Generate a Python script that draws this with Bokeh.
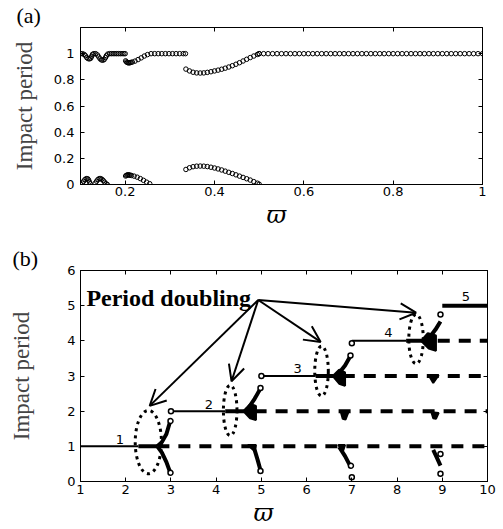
from bokeh.plotting import figure
from bokeh.models import Range1d, LinearAxis, FixedTicker, Label, Arrow, OpenHead, Title
from bokeh.layouts import column
from bokeh.embed import file_html
from bokeh.resources import INLINE

# ---------------- panel (a) data ----------------
a_up1_w = [0.100,0.104,0.108,0.111,0.114,0.117,0.120,0.123,0.125,0.127,0.130,0.134,0.138,0.141,0.144,0.147,0.150,0.153,0.156,0.158,0.161,0.165,0.169,0.173,0.177,0.181,0.185,0.189,0.193,0.197,0.200]
a_up1_v = [1.0,1.0,0.995,0.985,0.97,0.962,0.96,0.965,0.98,0.995,1.0,1.0,0.99,0.975,0.96,0.952,0.95,0.955,0.97,0.985,0.997,1.0,1.0,1.0,1.0,1.0,1.0,1.0,1.0,1.0,1.0]
a_lo1_w = [0.100,0.104,0.107,0.110,0.113,0.116,0.118,0.120,0.122,0.133,0.136,0.139,0.142,0.145,0.148,0.151,0.154,0.157,0.160]
a_lo1_v = [0.0,0.01,0.025,0.038,0.045,0.044,0.035,0.02,0.005,0.01,0.025,0.038,0.045,0.045,0.04,0.03,0.018,0.006,0.0]
a_up2_w = [0.201,0.203,0.205,0.207,0.209,0.211,0.213,0.216,0.222,0.229,0.236,0.243,0.250,0.258,0.266,0.274,0.282,0.290,0.298,0.306,0.314,0.322,0.330,0.335]
a_up2_v = [0.945,0.937,0.932,0.93,0.93,0.931,0.933,0.936,0.943,0.955,0.968,0.982,0.993,1.0,1.0,1.0,1.0,1.0,1.0,1.0,1.0,1.0,1.0,1.0]
a_lo2_w = [0.201,0.203,0.205,0.207,0.209,0.211,0.214,0.220,0.227,0.234,0.241,0.248,0.255]
a_lo2_v = [0.065,0.07,0.073,0.074,0.073,0.071,0.069,0.064,0.056,0.045,0.032,0.018,0.006]
a_up3_w = [0.336,0.344,0.352,0.360,0.368,0.376,0.384,0.392,0.400,0.408,0.416,0.424,0.432,0.440,0.448,0.456,0.464,0.472,0.480,0.488,0.496,0.500]
a_up3_v = [0.882,0.868,0.858,0.853,0.852,0.853,0.857,0.862,0.868,0.874,0.881,0.889,0.898,0.908,0.919,0.931,0.944,0.957,0.970,0.982,0.994,1.0]
a_lo3_w = [0.336,0.344,0.352,0.360,0.368,0.376,0.384,0.392,0.400,0.408,0.416,0.424,0.432,0.440,0.448,0.456,0.464,0.472,0.480,0.488,0.496,0.500]
a_lo3_v = [0.115,0.128,0.136,0.140,0.141,0.140,0.137,0.132,0.126,0.119,0.111,0.102,0.093,0.084,0.074,0.064,0.054,0.044,0.034,0.022,0.010,0.002]
a_up4_w = [0.50,0.51,0.52,0.53,0.54,0.55,0.56,0.57,0.58,0.59,0.60,0.61,0.62,0.63,0.64,0.65,0.66,0.67,0.68,0.69,
           0.70,0.71,0.72,0.73,0.74,0.75,0.76,0.77,0.78,0.79,0.80,0.81,0.82,0.83,0.84,0.85,0.86,0.87,0.88,0.89,
           0.90,0.91,0.92,0.93,0.94,0.95,0.96,0.97,0.98,0.99,1.00]
a_up4_v = [1.0]*51

a_xticks = [0.2, 0.4, 0.6, 0.8, 1.0]
a_xlabels = ["0.2", "0.4", "0.6", "0.8", "1"]
a_yticks = [0, 0.2, 0.4, 0.6, 0.8, 1.0]
a_ylabels = ["0", "0.2", "0.4", "0.6", "0.8", "1"]

# ---------------- panel (b) data ----------------
b_xticks = [1, 2, 3, 4, 5, 6, 7, 8, 9, 10]
b_yticks = [0, 1, 2, 3, 4, 5, 6]
thin_x0 = [1.0, 3.0, 5.0, 7.0]
thin_x1 = [2.28, 4.2, 6.2, 8.2]
thin_y = [1, 2, 3, 4]
thick_x0 = [2.28, 4.2, 6.2, 8.2, 9.0]
thick_x1 = [2.7, 4.62, 6.6, 8.58, 10.0]
thick_y = [1, 2, 3, 4, 5]
dash_x0 = [2.7, 4.85, 6.8, 8.9]
dash_x1 = [10.0, 10.0, 10.0, 10.0]
dash_y = [1, 2, 3, 4]
branch_xs = [[2.7, 2.8, 2.9, 2.98], [2.7, 2.8, 2.9, 2.98],
             [4.72, 4.85, 4.97], [4.85, 4.92, 4.98],
             [6.74, 6.85, 6.96], [6.72, 6.85, 6.96],
             [8.75, 8.85, 8.96], [8.8, 8.88, 8.96]]
branch_ys = [[1.0, 1.12, 1.35, 1.7], [1.0, 0.82, 0.55, 0.27],
             [2.1, 2.35, 2.62], [0.9, 0.6, 0.32],
             [3.12, 3.3, 3.55], [0.98, 0.72, 0.45],
             [4.15, 4.32, 4.55], [0.9, 0.68, 0.45]]
blob_xs = [[4.6, 4.75, 4.88, 4.88, 4.75], [4.7, 4.88, 4.86],
           [6.58, 6.72, 6.85, 6.85, 6.72], [6.76, 6.92, 6.86, 6.8], [6.7, 6.85, 6.8],
           [8.53, 8.68, 8.86, 8.86, 8.7], [8.7, 8.92, 8.8], [8.76, 8.92, 8.86, 8.8]]
blob_ys = [[2.0, 2.2, 2.15, 1.75, 1.8], [1.04, 1.04, 0.85],
           [3.0, 3.18, 3.1, 2.72, 2.78], [1.96, 1.96, 1.76, 1.78], [1.04, 1.04, 0.85],
           [4.0, 4.22, 4.15, 3.72, 3.78], [3.02, 3.02, 2.8], [1.97, 1.95, 1.78, 1.8]]
pt_x = [2.99, 2.99, 3.0, 4.98, 4.98, 5.0, 6.97, 6.98, 7.0, 7.0, 8.96, 8.96, 8.96]
pt_y = [1.72, 0.25, 2.0, 2.66, 0.3, 3.0, 3.58, 0.45, 0.12, 3.93, 4.75, 0.78, 0.22]
ell_x = [2.5, 4.31, 6.33, 8.42]
ell_y = [1.12, 2.02, 3.14, 4.05]
ell_w = [0.58, 0.3, 0.3, 0.32]
ell_h = [1.8, 1.43, 1.42, 1.4]
arr_x0 = [4.93, 4.93, 4.93, 4.93]
arr_y0 = [5.16, 5.16, 5.16, 5.16]
arr_x1 = [2.53, 4.34, 6.31, 8.42]
arr_y1 = [2.15, 2.85, 3.97, 4.8]
num_text = ["1", "2", "3", "4", "5"]
num_x = [1.87, 3.84, 5.8, 7.81, 9.52]
num_y = [1.2, 2.18, 3.21, 4.24, 5.25]

TICK_FONT = "DejaVu Sans"
SERIF = "Liberation Serif"


def style(p, xticks, yticks, xover, yover, ylab_standoff, ytick_standoff, xtick_standoff,
          panel_label, panel_offset, xlab_offset, xlab_standoff):
    p.outline_line_color = "black"
    p.outline_line_width = 1
    p.xgrid.visible = False
    p.ygrid.visible = False
    p.background_fill_color = "white"
    p.border_fill_color = "white"
    for ax in (p.xaxis[0], p.yaxis[0]):
        ax.major_tick_in = 4
        ax.major_tick_out = 0
        ax.minor_tick_line_color = None
        ax.axis_line_color = "black"
        ax.major_label_text_font = TICK_FONT
        ax.major_label_text_font_size = "13px"
        ax.major_label_text_color = "black"
    p.xaxis[0].ticker = FixedTicker(ticks=xticks)
    p.yaxis[0].ticker = FixedTicker(ticks=yticks)
    p.xaxis[0].major_label_overrides = xover
    p.yaxis[0].major_label_overrides = yover
    p.xaxis[0].major_label_standoff = xtick_standoff
    p.yaxis[0].major_label_standoff = ytick_standoff
    p.yaxis[0].axis_label = "Impact period"
    p.yaxis[0].axis_label_text_font = SERIF
    p.yaxis[0].axis_label_text_font_size = "23px"
    p.yaxis[0].axis_label_text_font_style = "normal"
    p.yaxis[0].axis_label_standoff = ylab_standoff
    for loc, tk in (("above", xticks), ("right", yticks)):
        ax = LinearAxis(ticker=FixedTicker(ticks=tk), major_tick_in=4, major_tick_out=0,
                        minor_tick_line_color=None, major_label_text_font_size="0px",
                        major_label_text_color=None,
                        major_label_standoff=0, axis_line_color="black")
        p.add_layout(ax, loc)
    p.title.text = panel_label
    p.title.align = "left"
    p.title.offset = panel_offset
    p.title.standoff = 0
    p.title.text_font = SERIF
    p.title.text_font_size = "22px"
    p.title.text_font_style = "normal"
    p.title.text_color = "black"
    p.add_layout(Title(text="\u03d6", align="left", offset=xlab_offset, standoff=xlab_standoff,
                       text_font="DejaVu Serif", text_font_size="24px", text_font_style="italic",
                       text_color="black"), "below")


# ---------------- figure (a) ----------------
pa = figure(width=495, height=236, output_backend="svg", toolbar_location=None,
            x_range=Range1d(0.1, 1.0), y_range=Range1d(0, 1.2),
            min_border_left=76, min_border_right=13, min_border_top=24, min_border_bottom=52)
style(pa, a_xticks, a_yticks, dict(zip(a_xticks, a_xlabels)), dict(zip(a_yticks, a_ylabels)),
      14, 6, 2, "(a)", -64, 186, 0)
for w, v in ((a_up1_w, a_up1_v), (a_lo1_w, a_lo1_v), (a_up2_w, a_up2_v), (a_lo2_w, a_lo2_v),
             (a_up3_w, a_up3_v), (a_lo3_w, a_lo3_v), (a_up4_w, a_up4_v)):
    pa.scatter(w, v, marker="circle", size=4.5, fill_color=None, line_color="black", line_width=1)

# ---------------- figure (b) ----------------
pb = figure(width=500, height=290, output_backend="svg", toolbar_location=None,
            x_range=Range1d(1, 10), y_range=Range1d(0, 6),
            min_border_left=80, min_border_right=8, min_border_top=34, min_border_bottom=42)
style(pb, b_xticks, b_yticks, {}, {}, 30, 5, 3, "(b)", -68, 173, 0)
pb.segment(x0=thin_x0, y0=thin_y, x1=thin_x1, y1=thin_y, line_color="black", line_width=2)
pb.segment(x0=thick_x0, y0=thick_y, x1=thick_x1, y1=thick_y, line_color="black", line_width=4)
pb.segment(x0=dash_x0, y0=dash_y, x1=dash_x1, y1=dash_y, line_color="black", line_width=4,
           line_dash="12 9")
pb.multi_line(xs=branch_xs, ys=branch_ys, line_color="black", line_width=4)
pb.patches(xs=blob_xs, ys=blob_ys, fill_color="black", line_color="black", line_width=2)
pb.scatter(pt_x, pt_y, marker="circle", size=5, fill_color="white", line_color="black", line_width=1.5)
pb.ellipse(x=ell_x, y=ell_y, width=ell_w, height=ell_h, fill_color=None, line_color="black",
           line_width=3, line_dash="3 4")
for x0, y0, x1, y1 in zip(arr_x0, arr_y0, arr_x1, arr_y1):
    pb.add_layout(Arrow(end=OpenHead(size=16, line_width=2, line_color="black"),
                        x_start=x0, y_start=y0, x_end=x1, y_end=y1, line_width=2, line_color="black"))
pb.text(x=num_x, y=num_y, text=num_text, text_font={"value": TICK_FONT}, text_font_size="13px",
        text_align="center", text_baseline="middle", text_color="black")
pb.add_layout(Label(x=1.13, y=5.23, text="Period doubling", text_font=SERIF, text_font_size="24px",
                    text_font_style="bold", text_align="left", text_baseline="alphabetic", text_color="black"))

layout = column(pa, pb, spacing=0)
open("out.html", "w").write(file_html(layout, INLINE))
